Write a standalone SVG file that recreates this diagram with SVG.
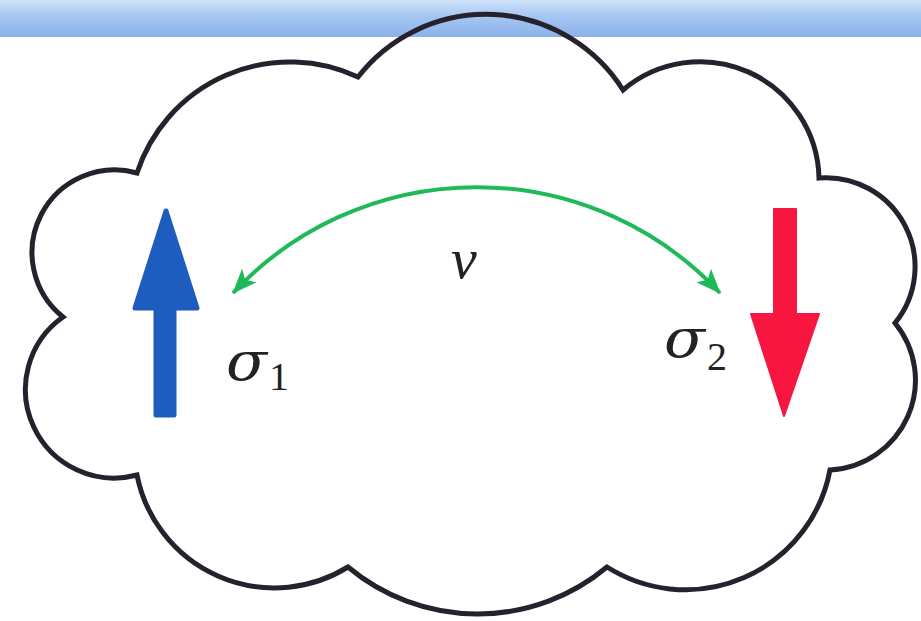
<svg xmlns="http://www.w3.org/2000/svg" width="921" height="621" viewBox="0 0 921 621">
  <defs>
    <linearGradient id="band" x1="0" y1="0" x2="0" y2="1">
      <stop offset="0" stop-color="#cfe2f9"/>
      <stop offset="0.45" stop-color="#a6c6f1"/>
      <stop offset="1" stop-color="#8ab1ea"/>
    </linearGradient>
    <marker id="gh" markerUnits="userSpaceOnUse" markerWidth="26" markerHeight="22" viewBox="0 0 26 22" refX="24" refY="11" orient="auto-start-reverse">
      <path d="M0,1 L25,11 L0,21 L6,11 z" fill="#1fba58"/>
    </marker>
    <style>
      .cloud { fill: none; stroke: #26212c; stroke-width: 5; stroke-linejoin: miter; }
      .spin-up { fill: #1f5cc0; stroke: #1f5cc0; stroke-width: 5; stroke-linejoin: round; }
      .spin-down { fill: #f7163f; stroke: #f7163f; stroke-width: 2; stroke-linejoin: round; }
      .link { fill: none; stroke: #1fba58; stroke-width: 4; }
      .math { font-family: "Liberation Serif", "DejaVu Serif", serif; fill: #222; }
      .sig { font-family: "DejaVu Serif", "Liberation Serif", serif; font-style: italic; fill: #222; }
      .it { font-style: italic; }
    </style>
  </defs>
  <rect x="0" y="0" width="921" height="621" fill="#ffffff"/>
  <rect x="0" y="0" width="921" height="37" fill="url(#band)"/>

  <g id="cloud">
    <path class="cloud" d="M358,77 A162,162 0 0 1 623,90 A119,119 0 0 1 819,178 A89,89 0 0 1 895,323 A90,90 0 0 1 830,470 A147,147 0 0 1 607,567 A202,202 0 0 1 348,567 A140,140 0 0 1 137,475 A88.6,88.6 0 0 1 63,317 A82.6,82.6 0 0 1 137,173 A161,161 0 0 1 358,77 Z"/>
  </g>

  <g id="spin1">
    <path class="spin-up" d="M156,415 L156,308 L135,308 L166,211 L197,308 L174,308 L174,415 Z"/>
    <text class="sig" x="226" y="380" font-size="54" textLength="41" lengthAdjust="spacingAndGlyphs">σ</text>
    <text class="math" x="269" y="390" font-size="40">1</text>
  </g>

  <g id="spin2">
    <path class="spin-down" d="M774,209 L796,209 L796,314 L819,314 L784,416 L751,314 L774,314 Z"/>
    <text class="sig" x="664" y="357" font-size="54" textLength="41" lengthAdjust="spacingAndGlyphs">σ</text>
    <text class="math" x="707" y="370" font-size="40">2</text>
  </g>

  <g id="connectors">
    <path class="link" d="M233,293 A333,333 0 0 1 720,293" marker-start="url(#gh)" marker-end="url(#gh)"/>
    <text class="math it" x="451" y="278" font-size="58">v</text>
  </g>
</svg>
